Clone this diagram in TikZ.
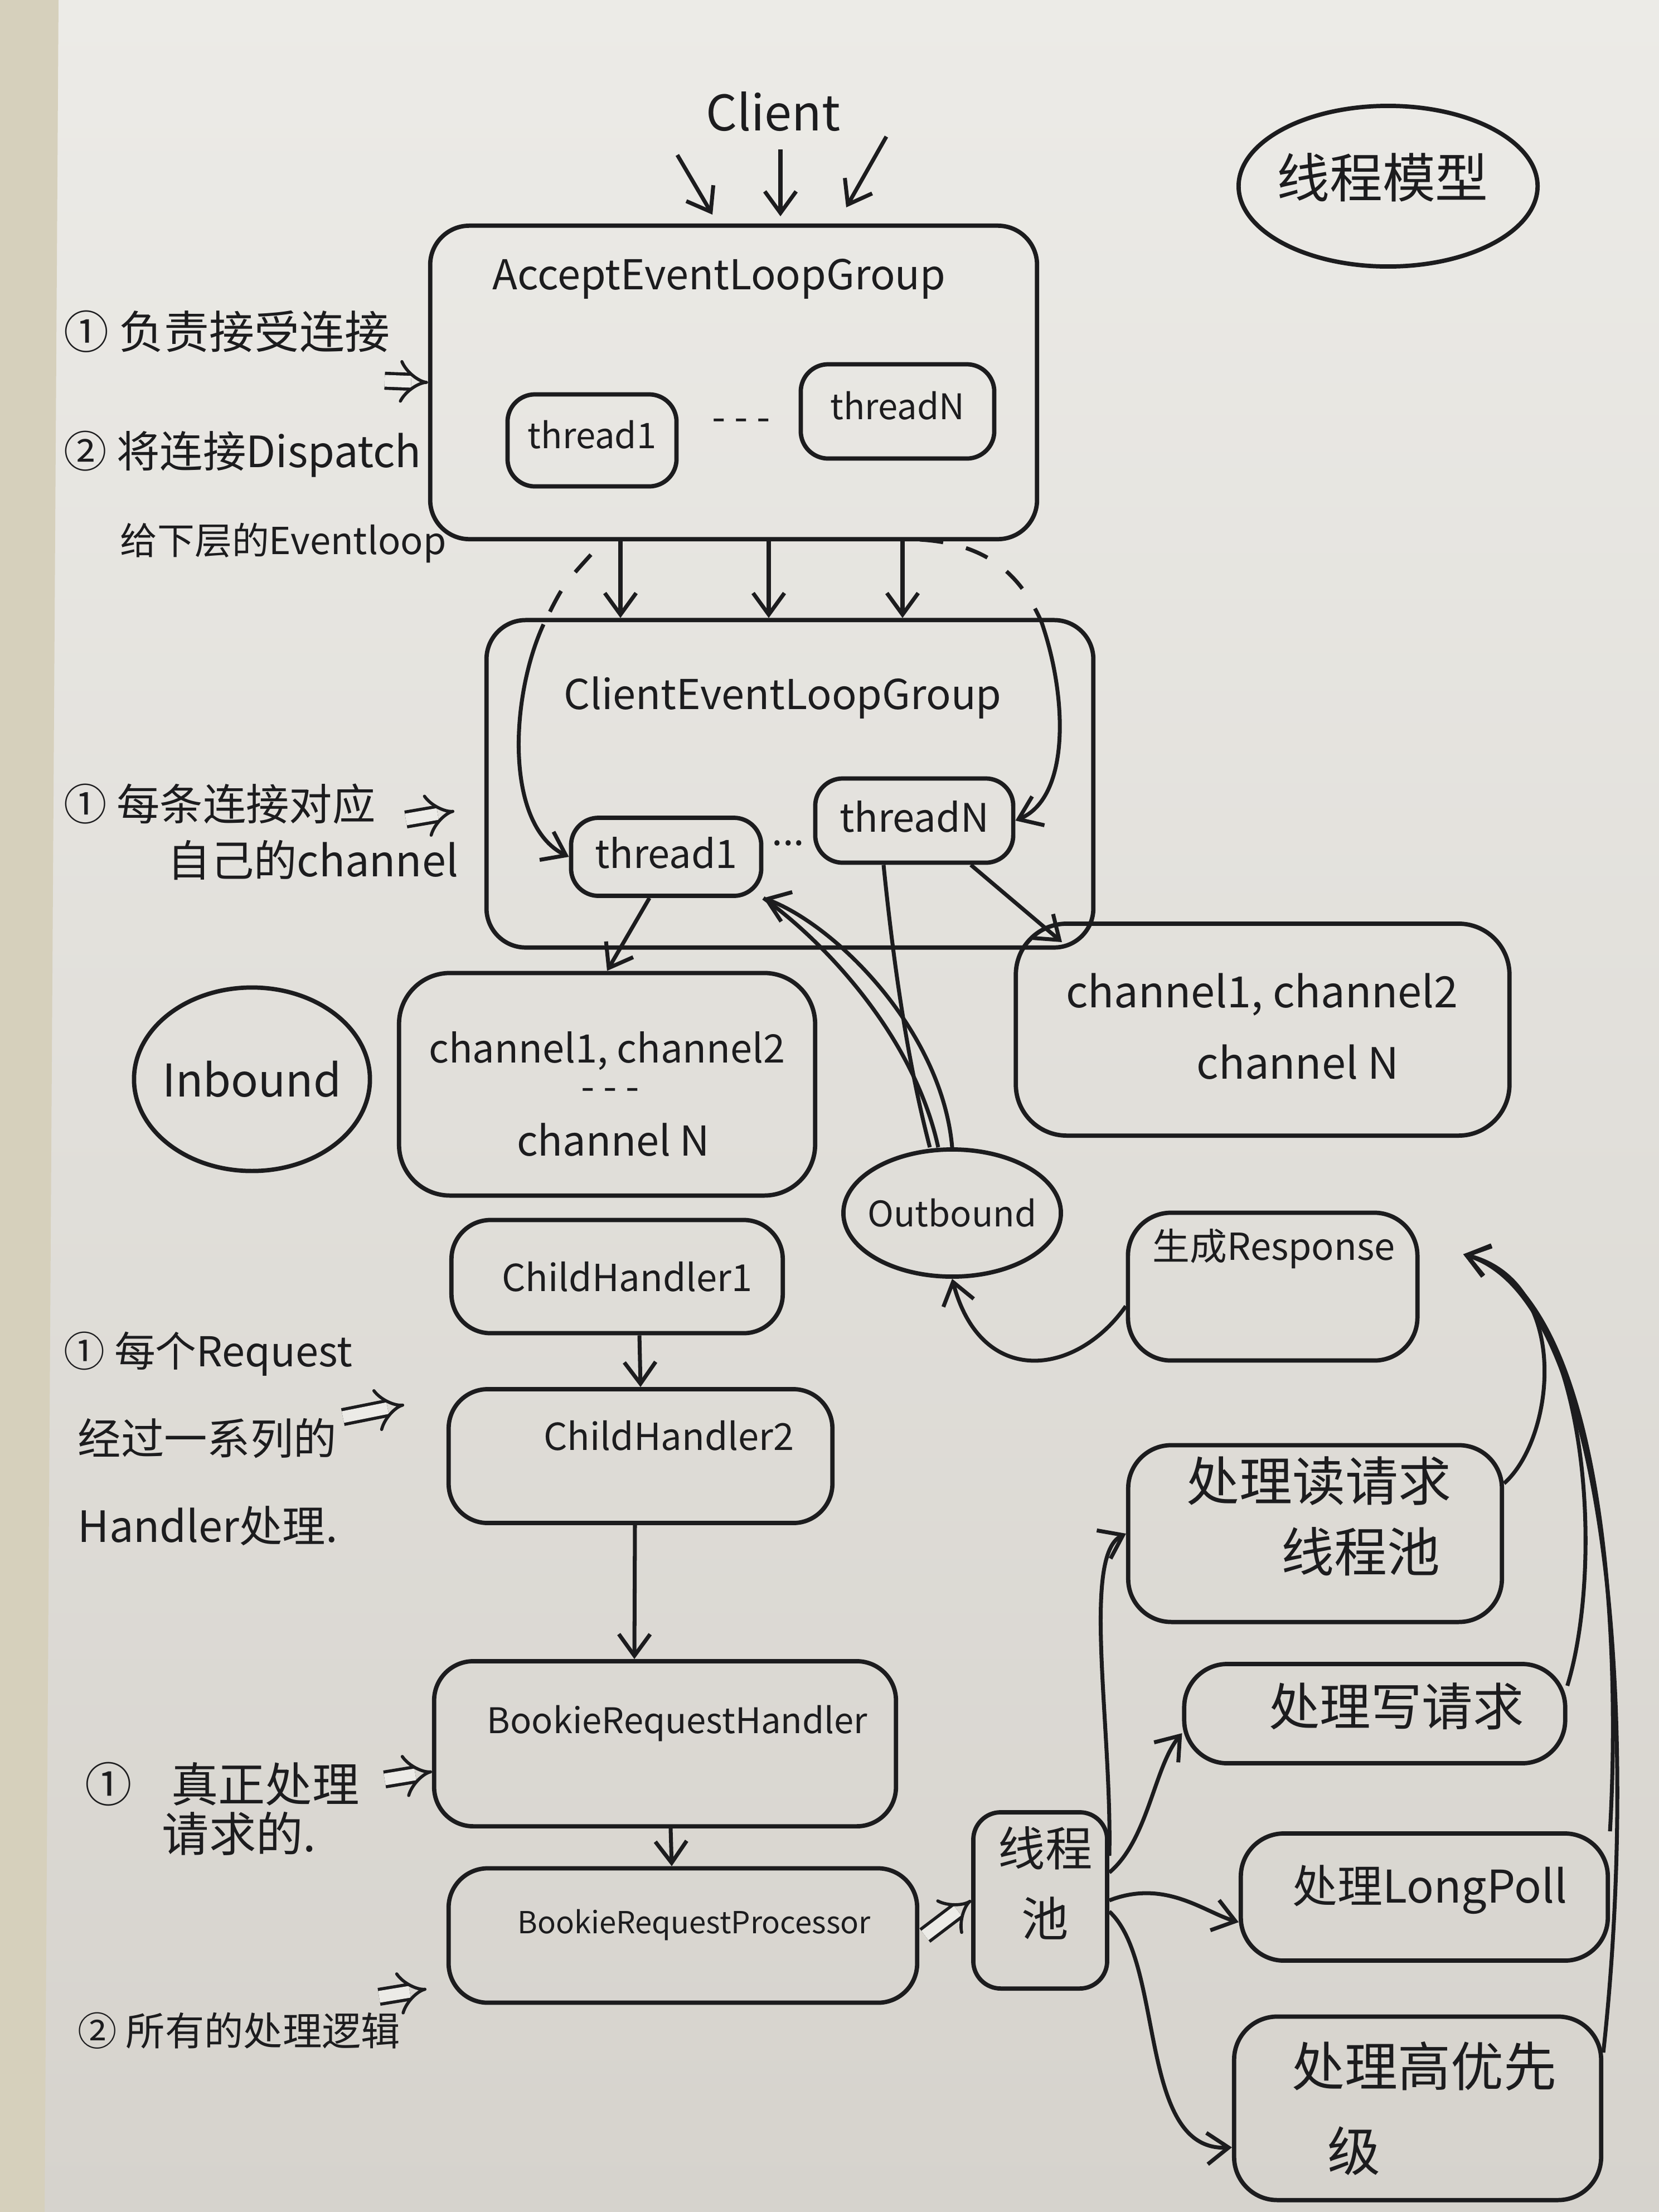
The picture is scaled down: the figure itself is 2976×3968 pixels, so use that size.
\documentclass[tikz,border=0pt]{standalone}
\usepackage{fontspec}
\newfontfamily\cjk{Noto Sans CJK SC}
\usetikzlibrary{arrows.meta,shapes.geometric}
\definecolor{ink}{RGB}{28,28,30}
\definecolor{paper}{RGB}{236,235,231}
\definecolor{paperdark}{RGB}{214,211,205}
\definecolor{strip}{RGB}{214,208,188}
\tikzset{
  box/.style={draw=ink, line width=2.2pt, rounded corners=20pt, inner sep=0pt},
  oval/.style={draw=ink, line width=2.2pt, ellipse, inner sep=0pt},
  txt/.style={text=ink, inner sep=0pt},
  fs/.style={font=\cjk\fontsize{#1}{#1}\selectfont},
  arr/.style={draw=ink, line width=2pt, -{Straight Barb[length=11pt,width=16pt]}},
  plain/.style={draw=ink, line width=2pt},
  dsh/.style={draw=ink, line width=2pt, dash pattern=on 12pt off 12pt},
  dbl/.style={draw=ink, line width=1.6pt, double=paper, double distance=6pt, -Implies},
}
\begin{document}
\begin{tikzpicture}[x=0.01cm,y=-0.01cm]
\useasboundingbox (0,0) rectangle (2976,3968);
\shade[top color=paper, bottom color=paperdark] (0,0) rectangle (2976,3968);
\fill[strip] (0,0) -- (105,0) -- (80,3968) -- (0,3968) -- cycle;

% ---------- title oval ----------
\node[oval, minimum width=5.36cm, minimum height=2.88cm] (model) at (2490,334) {};
\node[txt, fs=27] (modeltxt) at (2480,318) {线程模型};

% ---------- client ----------
\node[txt, fs=25] (client) at (1387,200) {Client};
\coordinate (cl1s) at (1215,278); \coordinate (cl1e) at (1278,385);
\coordinate (cl2s) at (1400,268); \coordinate (cl2e) at (1400,388);
\coordinate (cl3s) at (1590,245); \coordinate (cl3e) at (1518,372);
\draw[arr] (cl1s) -- (cl1e);
\draw[arr] (cl2s) -- (cl2e);
\draw[arr] (cl3s) -- (cl3e);

% ---------- accept group ----------
\node[box, minimum width=10.88cm, minimum height=5.62cm] (accept) at (1316,686) {};
\node[txt, fs=21] (accepttxt) at (1290,500) {AcceptEventLoopGroup};
\node[box, rounded corners=14pt, minimum width=3.03cm, minimum height=1.65cm] (at1) at (1062,790) {};
\node[txt, fs=18] (at1txt) at (1062,780) {thread1};
\node[box, rounded corners=14pt, minimum width=3.47cm, minimum height=1.69cm] (atn) at (1610,738) {};
\node[txt, fs=18] (atntxt) at (1610,728) {threadN};
\node[txt, fs=20] (adots) at (1330,762) {- - -};

% ---------- client event loop group ----------
\node[box, minimum width=10.88cm, minimum height=5.87cm] (cgroup) at (1417,1406) {};
\node[txt, fs=21] (cgrouptxt) at (1404,1252) {ClientEventLoopGroup};
\node[box, rounded corners=14pt, minimum width=3.41cm, minimum height=1.40cm] (ct1) at (1195,1537) {};
\node[txt, fs=20] (ct1txt) at (1195,1530) {thread1};
\node[box, rounded corners=14pt, minimum width=3.55cm, minimum height=1.51cm] (ctn) at (1640,1472) {};
\node[txt, fs=20] (ctntxt) at (1640,1465) {threadN};
\node[txt, fs=20] (cdots) at (1414,1512) {...};

% accept -> client group
\coordinate (cx1) at (1113,0); \coordinate (cx2) at (1379,0); \coordinate (cx3) at (1619,0);
\draw[arr] (accept.south -| cx1) -- (cgroup.north -| cx1);
\draw[arr] (accept.south -| cx2) -- (cgroup.north -| cx2);
\draw[arr] (accept.south -| cx3) -- (cgroup.north -| cx3);
\coordinate (dl1) at (1060,995); \coordinate (dl2) at (975,1120);
\draw[dsh] (dl1) .. controls (1010,1050) .. (dl2);
\draw[arr] (dl2) .. controls (915,1250) and (905,1480) .. (ct1.west);
\coordinate (dr1) at (1650,968); \coordinate (dr2) at (1868,1115);
\draw[dsh] (dr1) .. controls (1770,975) and (1830,1030) .. (dr2);
\draw[arr] (dr2) .. controls (1915,1250) and (1920,1430) .. (ctn.east);

% ---------- left annotations ----------
\node[txt, fs=23, anchor=west] (a1) at (114,595) {① 负责接受连接};
\node[txt, fs=22, anchor=west] (a2) at (114,815) {② 将连接Dispatch};
\node[txt, fs=19, anchor=west] (a3) at (215,974) {给下层的Eventloop};
\coordinate (da) at (690,683);
\draw[dbl] (da) -- (accept.west);

\node[txt, fs=22, anchor=west] (b1) at (114,1442) {① 每条连接对应};
\node[txt, fs=22, anchor=west] (b2) at (300,1543) {自己的channel};
\coordinate (db1) at (728,1470); \coordinate (db2) at (815,1455);
\draw[dbl] (db1) -- (db2);

% ---------- channels ----------
\node[oval, minimum width=4.23cm, minimum height=3.29cm] (inbound) at (452,1936) {};
\node[txt, fs=23] (inboundtxt) at (452,1936) {Inbound};
\node[box, rounded corners=26pt, minimum width=7.46cm, minimum height=3.99cm] (chanL) at (1089,1945) {};
\node[txt, fs=20] (chanL1) at (1089,1885) {channel1, channel2};
\node[txt, fs=20] (chanLd) at (1095,1963) {- - -};
\node[txt, fs=21] (chanLN) at (1100,2045) {channel N};
\node[box, rounded corners=26pt, minimum width=8.85cm, minimum height=3.80cm] (chanR) at (2265,1847) {};
\node[txt, fs=22] (chanR1) at (2264,1784) {channel1, channel2};
\node[txt, fs=22] (chanRN) at (2328,1905) {channel N};

\draw[arr] ([xshift=-0.3cm]ct1.south) -- (chanL.north);
\coordinate (chrin) at (1905,1690);
\draw[arr] ([xshift=-0.8cm]ctn.south east) -- (chrin);

% ---------- outbound ----------
\node[oval, minimum width=3.90cm, minimum height=2.28cm] (outbound) at (1708,2176) {};
\node[txt, fs=18] (outboundtxt) at (1708,2176) {Outbound};
\draw[arr] (outbound.north) .. controls (1690,1850) and (1500,1660) .. (ct1.south east);
\draw[plain] ([xshift=-0.25cm]outbound.north) .. controls (1640,1860) and (1480,1690) .. (ct1.south east);
\draw[plain] ([xshift=-0.55cm]ctn.south) .. controls (1610,1800) and (1640,1950) .. ([xshift=-0.4cm]outbound.north);

% ---------- handlers ----------
\node[box, minimum width=5.94cm, minimum height=2.03cm] (ch1) at (1107,2290) {};
\node[txt, fs=19] (ch1txt) at (1125,2290) {ChildHandler1};
\node[box, minimum width=6.88cm, minimum height=2.40cm] (ch2) at (1149,2612) {};
\node[txt, fs=19] (ch2txt) at (1200,2575) {ChildHandler2};
\draw[arr] ([xshift=0.4cm]ch1.south) -- ([xshift=0.0cm]ch2.north);

\node[txt, fs=21, anchor=west] (c1) at (114,2429) {① 每个Request};
\node[txt, fs=22, anchor=west] (c2) at (139,2580) {经过一系列的};
\node[txt, fs=22, anchor=west] (c3) at (139,2737) {Handler处理.};
\coordinate (dc1) at (615,2542); \coordinate (dc2) at (725,2520);
\draw[dbl] (dc1) -- (dc2);

\node[box, minimum width=8.28cm, minimum height=2.96cm] (brh) at (1193,3128) {};
\node[txt, fs=18] (brhtxt) at (1215,3092) {BookieRequestHandler};
\draw[arr] ([xshift=-0.1cm]ch2.south) -- ([xshift=-0.55cm]brh.north);
\node[box, minimum width=8.40cm, minimum height=2.41cm] (brp) at (1225,3472) {};
\node[txt, fs=15.5] (brptxt) at (1245,3453) {BookieRequestProcessor};
\draw[arr] ([xshift=0.1cm]brh.south) -- ([xshift=-0.2cm]brp.north);

\node[txt, fs=24, anchor=west] (d1) at (152,3200) {①\hspace{0.7cm}真正处理};
\node[txt, fs=24, anchor=west] (d2) at (290,3289) {请求的.};
\coordinate (dd1) at (690,3192); \coordinate (dd2) at (775,3178);
\draw[dbl] (dd1) -- (dd2);
\node[txt, fs=20, anchor=west] (e1) at (139,3643) {② 所有的处理逻辑};
\coordinate (de1) at (680,3582); \coordinate (de2) at (765,3568);
\draw[dbl] (de1) -- (de2);

% ---------- thread pool ----------
\node[box, rounded corners=14pt, minimum width=2.40cm, minimum height=3.16cm] (pool) at (1866,3409) {};
\node[txt, fs=24, align=center] (pooltxt) at (1875,3378) {线程\\[12pt]池};
\draw[dbl] ([xshift=0.1cm]brp.east) -- (pool.west);

\node[box, rounded corners=22pt, minimum width=6.70cm, minimum height=3.17cm] (read) at (2359,2751) {};
\node[txt, fs=27] (readtxt1) at (2366,2657) {处理读请求};
\node[txt, fs=27] (readtxt2) at (2441,2783) {线程池};
\node[box, rounded corners=22pt, minimum width=6.83cm, minimum height=1.78cm] (write) at (2466,3074) {};
\node[txt, fs=26] (writetxt) at (2505,3061) {处理写请求};
\node[box, rounded corners=22pt, minimum width=6.58cm, minimum height=2.28cm] (longpoll) at (2555,3403) {};
\node[txt, fs=23] (longpolltxt) at (2565,3390) {处理LongPoll};
\node[box, rounded corners=22pt, minimum width=6.58cm, minimum height=3.29cm] (high) at (2543,3782) {};
\node[txt, fs=27] (hightxt1) at (2555,3706) {处理高优先};
\node[txt, fs=27] (hightxt2) at (2429,3858) {级};

\draw[arr] ([yshift=0.8cm]pool.east) .. controls (1995,3100) and (1940,2790) .. (read.west);
\draw[arr] ([yshift=0.5cm]pool.east) .. controls (2060,3300) and (2070,3170) .. ([yshift=-0.35cm]write.west);
\draw[arr] (pool.east) .. controls (2090,3370) and (2160,3430) .. ([yshift=-0.45cm]longpoll.west);
\draw[arr] ([yshift=-0.2cm]pool.east) .. controls (2090,3520) and (2040,3860) .. ([yshift=-0.7cm]high.west);

% ---------- response ----------
\node[box, rounded corners=22pt, minimum width=5.19cm, minimum height=2.65cm] (resp) at (2283,2308) {};
\node[txt, fs=19] (resptxt) at (2285,2240) {生成Response};
\draw[arr] ([yshift=-0.35cm]resp.west) .. controls (1930,2470) and (1760,2490) .. (outbound.south);
\coordinate (rin) at (2625,2250);
\draw[arr] ([yshift=0.9cm]read.east) .. controls (2790,2580) and (2820,2300) .. (rin);
\draw[arr] ([yshift=0.5cm]write.east) .. controls (2880,2800) and (2850,2310) .. (rin);
\draw[arr] (longpoll.north east) .. controls (2910,2900) and (2870,2320) .. (rin);
\draw[arr] ([yshift=1.0cm]high.east) .. controls (2940,3100) and (2890,2330) .. (rin);
\end{tikzpicture}
\end{document}
